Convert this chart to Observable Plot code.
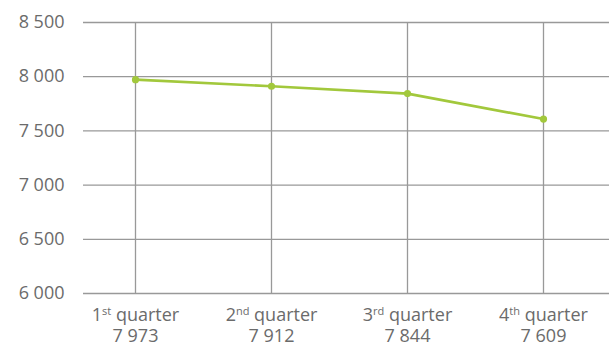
<!DOCTYPE html>
<html>
<head>
<meta charset="utf-8">
<script src="https://cdn.jsdelivr.net/npm/d3@7"></script>
<script src="https://cdn.jsdelivr.net/npm/@observablehq/plot@0.6"></script>
<style>
  html, body { margin: 0; padding: 0; background: #fff; }
  #chart svg { display: block; }
</style>
</head>
<body>
<div id="chart"></div>
<script>
// Quarterly headcount
const quarterNumbers = ["1", "2", "3", "4"];
const ordinalSuffixes = ["st", "nd", "rd", "th"];
const headcount = [7973, 7912, 7844, 7609];
const yTicks = [6000, 6500, 7000, 7500, 8000, 8500];

const quarterKeys = quarterNumbers.map((n, i) => n + ordinalSuffixes[i] + " quarter");
const rows = quarterKeys.map((q, i) => ({quarter: q, value: headcount[i], num: quarterNumbers[i], suf: ordinalSuffixes[i]}));

// thousands separated by a space
const fmt = v => d3.format(",")(v).replace(/,/g, " ");

const textColor = "#6b6b6b";
const gridColor = "#999999";
const lineColor = "#a2c83c";

const chart = Plot.plot({
  width: 609,
  height: 343,
  marginTop: 22,
  marginBottom: 50,
  marginLeft: 83,
  marginRight: 0,
  style: {fontFamily: "'Open Sans', sans-serif", fontSize: "18px", color: textColor, background: "#fff"},
  x: {type: "point", domain: quarterKeys, range: [134, 544], padding: 0, axis: null},
  y: {domain: [6000, 8500], axis: null},
  marks: [
    Plot.gridY(yTicks, {stroke: gridColor, strokeOpacity: 1, strokeWidth: 1.3}),
    Plot.gridX(quarterKeys, {stroke: gridColor, strokeOpacity: 1, strokeWidth: 1.3}),
    Plot.axisY(yTicks, {
      tickSize: 0, tickPadding: 19, tickFormat: fmt,
      fill: textColor, fontSize: 18, label: null
    }),
    Plot.line(rows, {x: "quarter", y: "value", stroke: lineColor, strokeWidth: 2.6}),
    Plot.dot(rows, {x: "quarter", y: "value", fill: lineColor, r: 3.6}),
    Plot.text(rows, {
      x: "quarter", frameAnchor: "bottom", text: "quarter",
      fill: textColor, fontSize: 18, className: "qlabel"
    })
  ]
});

document.getElementById("chart").appendChild(chart);

// Quarter labels: ordinal suffix as superscript, headcount on a second line
d3.select(chart).selectAll(".qlabel text").each(function(d, i) {
  const row = rows[i];
  const t = d3.select(this);
  t.attr("dy", null).text(null);
  t.append("tspan").attr("x", 0).attr("y", 27).text(row.num);
  t.append("tspan").attr("dy", -6).attr("font-size", 11).text(row.suf);
  t.append("tspan").attr("dy", 6).text(" quarter");
  t.append("tspan").attr("x", 0).attr("y", 48).text(fmt(row.value));
});
</script>
</body>
</html>
